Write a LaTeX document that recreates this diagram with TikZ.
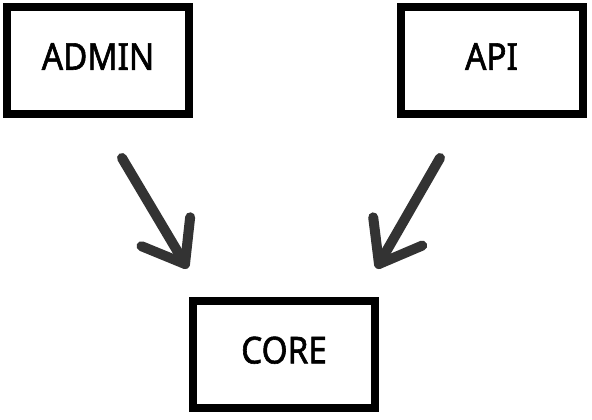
\documentclass[tikz,border=0pt]{standalone}
\usepackage{fontspec}
\setmainfont{Noto Sans}[FakeBold=1.6,FakeStretch=0.9]
\usetikzlibrary{calc}
\begin{document}
\begin{tikzpicture}[x=1pt,y=-1pt,
  box/.style={draw=black,line width=8pt,minimum width=182pt,minimum height=107pt,inner sep=0pt,text depth=8pt,font=\fontsize{37}{40}\selectfont,text=black},
  arrowline/.style={draw=black!80,line width=10pt,line cap=round,line join=round}]
\useasboundingbox (0,0) rectangle (592,420);
\node[box] (admin) at (98,60.5) {ADMIN};
\node[box] (api) at (491.5,60.5) {API};
\node[box] (core) at (284,354) {CORE};
\coordinate (s1) at (122,158);
\coordinate (t1) at (185,264);
\coordinate (s2) at (440,158);
\coordinate (t2) at (379,264);
\draw[arrowline] (s1) -- (t1);
\draw[arrowline] ($(t1)!47pt!-37:(s1)$) -- (t1) -- ($(t1)!47pt!37:(s1)$);
\draw[arrowline] (s2) -- (t2);
\draw[arrowline] ($(t2)!47pt!-37:(s2)$) -- (t2) -- ($(t2)!47pt!37:(s2)$);
\end{tikzpicture}
\end{document}
